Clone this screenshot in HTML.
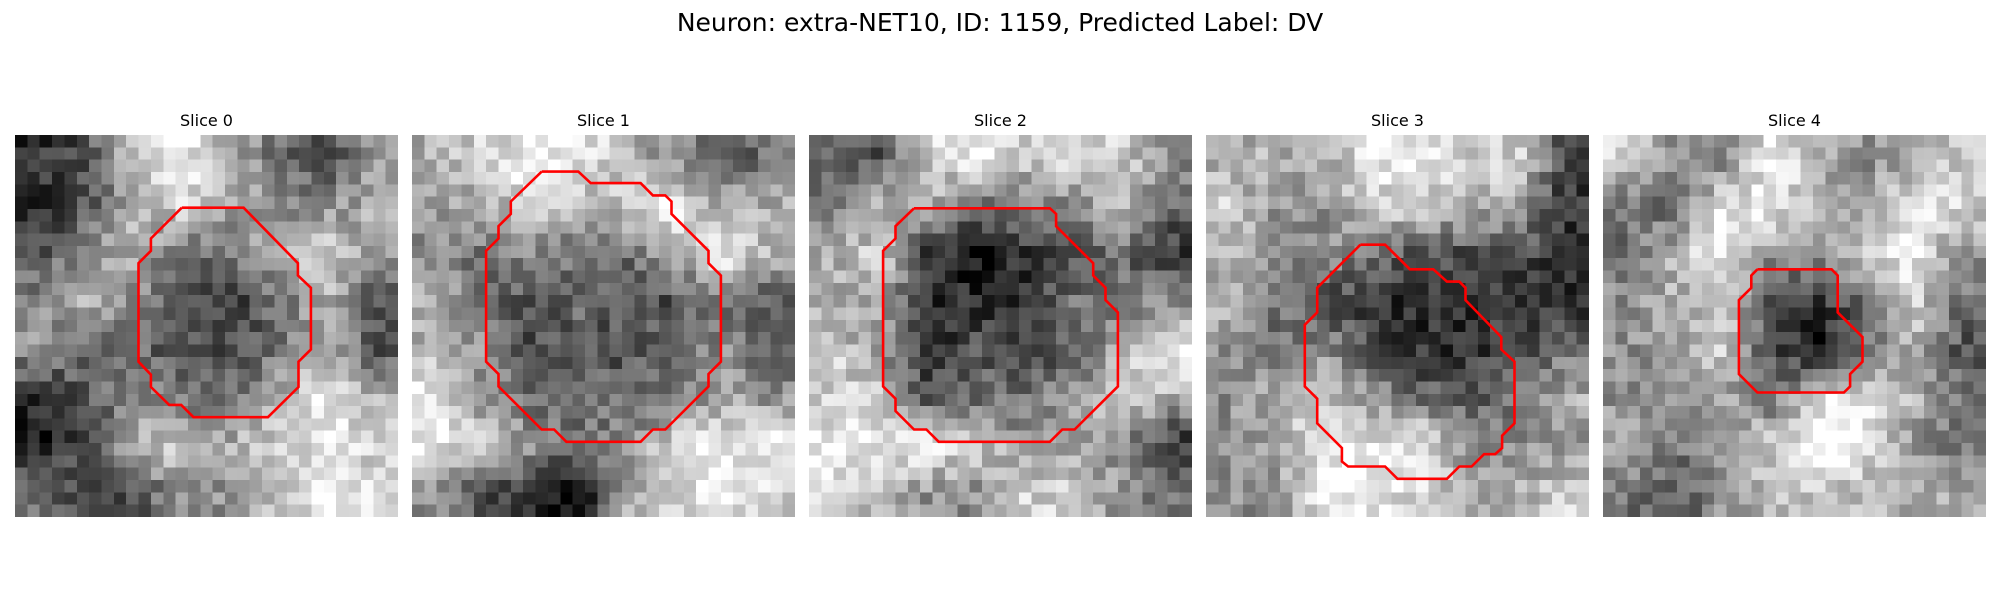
<!DOCTYPE html>
<html><head><meta charset="utf-8">
<style>
body{margin:0;width:2000px;height:600px;background:#fff;overflow:hidden;font-family:"DejaVu Sans","Liberation Sans",sans-serif;position:relative}
#title{position:absolute;left:0;width:2000px;top:8px;text-align:center;font-size:25px;color:#000}
.ptitle{position:absolute;top:111px;width:383px;text-align:center;font-size:16px;color:#000}
canvas.img{position:absolute;top:135px;width:383px;height:382px;image-rendering:pixelated}
svg.ov{position:absolute;top:135px;width:383px;height:382px;overflow:visible}
</style></head>
<body>
<div id="title">Neuron: extra-NET10, ID: 1159, Predicted Label: DV</div>
<div id="root"></div>
<script>
const panelLefts=[15,412,809,1206,1603];
const sliceTitles=["Slice 0","Slice 1","Slice 2","Slice 3","Slice 4"];
const brightness0=[[2,3,7,8,6,4,3,5],[2,3,6,7,6,5,5,6],[3,5,6,4,4,6,7,5],[5,6,5,3,2,4,6,3],[5,4,4,3,3,4,6,3],[2,3,5,4,4,6,8,6],[1,3,6,7,6,7,8,7],[4,3,3,5,5,7,8,7]];
const brightness1=[[6,7,8,8,6,5,3,4],[5,6,7,6,7,8,6,6],[5,4,5,4,4,6,8,6],[6,4,3,4,3,3,4,3],[6,5,3,3,3,4,5,3],[8,5,4,4,4,4,6,5],[8,7,5,4,5,7,8,8],[5,3,2,1,6,7,8,7]];
const brightness2=[[4,3,7,8,7,7,7,5],[4,6,6,4,4,5,6,4],[6,7,2,1,2,3,4,2],[6,6,2,2,2,4,4,5],[7,5,2,3,3,3,6,8],[7,7,3,4,4,5,7,6],[8,8,8,7,5,6,5,2],[7,6,5,5,7,7,5,4]];
const brightness3=[[6,6,6,8,8,7,7,3],[7,5,5,7,7,6,6,2],[6,5,5,4,3,3,3,2],[6,4,3,2,2,2,2,2],[5,4,5,3,2,2,3,4],[5,6,7,5,4,3,4,6],[5,6,8,8,8,5,5,5],[5,5,8,8,7,6,6,7]];
const brightness4=[[7,5,4,8,6,5,6,7],[4,4,8,8,6,5,8,7],[4,6,8,5,5,7,8,5],[5,6,7,3,2,4,7,4],[5,5,7,3,1,4,6,3],[5,5,6,4,7,8,6,4],[6,4,6,7,9,8,5,4],[4,3,5,6,7,6,6,6]];
const contour0=[[13.5,5.9],[18.5,5.9],[22.9,10.4],[22.9,11.4],[23.95,12.4],[23.95,17.4],[22.95,18.4],[22.95,20.45],[20.47,22.9],[14.45,22.9],[13.45,21.9],[12.48,21.9],[11,20.45],[11,19.45],[10,18.4],[10,10.4],[11,9.4],[11,8.4],[13.5,5.9]];
const contour1=[[10.5,2.97],[13.46,2.97],[14.46,3.9],[18.5,3.9],[19.5,4.9],[20.5,4.9],[21,5.4],[21,6.4],[24,9.4],[24,10.4],[25,11.4],[25,18.4],[24,19.4],[24,20.4],[20.5,23.9],[19.5,23.9],[18.5,24.9],[12.5,24.9],[11.5,23.9],[10.5,23.9],[7,20.4],[7,19.4],[6,18.4],[6,9.4],[7,8.4],[7,7.4],[8,6.4],[8,5.4],[10.5,2.97]];
const contour2=[[8.5,5.95],[19.5,5.95],[20,6.4],[20,7.4],[23,10.4],[23,11.4],[24,12.4],[24,13.4],[25,14.4],[25,20.4],[21.5,23.9],[20.5,23.9],[19.5,24.9],[10.5,24.9],[9.5,23.9],[8.5,23.9],[7,22.4],[7,21.4],[6,20.4],[6,9.4],[7,8.4],[7,7.4],[8.5,5.95]];
const contour3=[[12.5,8.9],[14.5,8.9],[16.5,10.9],[18.4,10.9],[19.5,11.9],[20.5,11.9],[21,12.4],[21,13.4],[23.9,16.4],[23.9,17.4],[24.97,18.4],[24.97,23.4],[23.97,24.4],[23.97,25.4],[23.4,25.9],[22.5,25.9],[21.5,26.9],[20.5,26.9],[19.5,27.9],[15.5,27.9],[14.5,26.9],[11.5,26.9],[11,26.5],[11,25.4],[9,23.4],[9,21.4],[8,20.4],[8,15.4],[9,14.4],[9,12.4],[12.5,8.9]];
const contour4=[[12.5,10.9],[18.5,10.9],[19,11.4],[19,14.4],[21,16.4],[21,18.4],[20,19.4],[20,20.4],[19.5,20.9],[12.5,20.9],[11,19.4],[11,13.4],[12,12.4],[12,11.4],[12.5,10.9]];
const brightnessMaps=[brightness0,brightness1,brightness2,brightness3,brightness4];
const contours=[contour0,contour1,contour2,contour3,contour4];
const N=31, W=383, H=382;
function sx(u){return u*W/N;}
function sy(u){return u*H/N;}
function hash(a,b,c){let h=(a*374761393+b*668265263+c*2147483647)|0;h=(h^(h>>>13))*1274126177|0;return ((h^(h>>>16))>>>0)/4294967295;}
function sample(m,x,y){
  const n=m.length; let fx=x/(N)*n-0.5, fy=y/(N)*n-0.5;
  fx=Math.max(0,Math.min(n-1.001,fx)); fy=Math.max(0,Math.min(n-1.001,fy));
  const ix=Math.floor(fx), iy=Math.floor(fy), tx=fx-ix, ty=fy-iy;
  const a=m[iy][ix], b=m[iy][ix+1], c=m[iy+1][ix], d=m[iy+1][ix+1];
  return a*(1-tx)*(1-ty)+b*tx*(1-ty)+c*(1-tx)*ty+d*tx*ty;
}
const root=document.getElementById('root');
const NS='http://www.w3.org/2000/svg';
panelLefts.forEach((left,p)=>{
  const t=document.createElement('div');
  t.className='ptitle'; t.style.left=left+'px'; t.textContent=sliceTitles[p];
  
  
  root.appendChild(t);
  const cv=document.createElement('canvas');
  cv.className='img'; cv.width=N; cv.height=N; cv.style.left=left+'px';
  
  
  const ctx=cv.getContext('2d'); const im=ctx.createImageData(N,N);
  for(let y=0;y<N;y++)for(let x=0;x<N;x++){
    const v=sample(brightnessMaps[p],x+0.5,y+0.5);
    let g=(v-4.5)*32+128+(hash(x,y,p)-0.5)*75;
    g=Math.max(0,Math.min(255,Math.round(g)));
    const k=(y*N+x)*4; im.data[k]=im.data[k+1]=im.data[k+2]=g; im.data[k+3]=255;
  }
  ctx.putImageData(im,0,0);
  root.appendChild(cv);
  const svg=document.createElementNS(NS,'svg');
  svg.setAttribute('class','ov'); svg.style.left=left+'px';
  svg.setAttribute('viewBox','0 0 '+W+' '+H);
  
  
  const pl=document.createElementNS(NS,'polyline');
  pl.setAttribute('points',contours[p].map(q=>sx(q[0]).toFixed(1)+','+sy(q[1]).toFixed(1)).join(' '));
  pl.setAttribute('fill','none'); pl.setAttribute('stroke','#ff0000'); pl.setAttribute('stroke-width','2.6');
  
  
  svg.appendChild(pl);
  root.appendChild(svg);
});
</script>
</body></html>
